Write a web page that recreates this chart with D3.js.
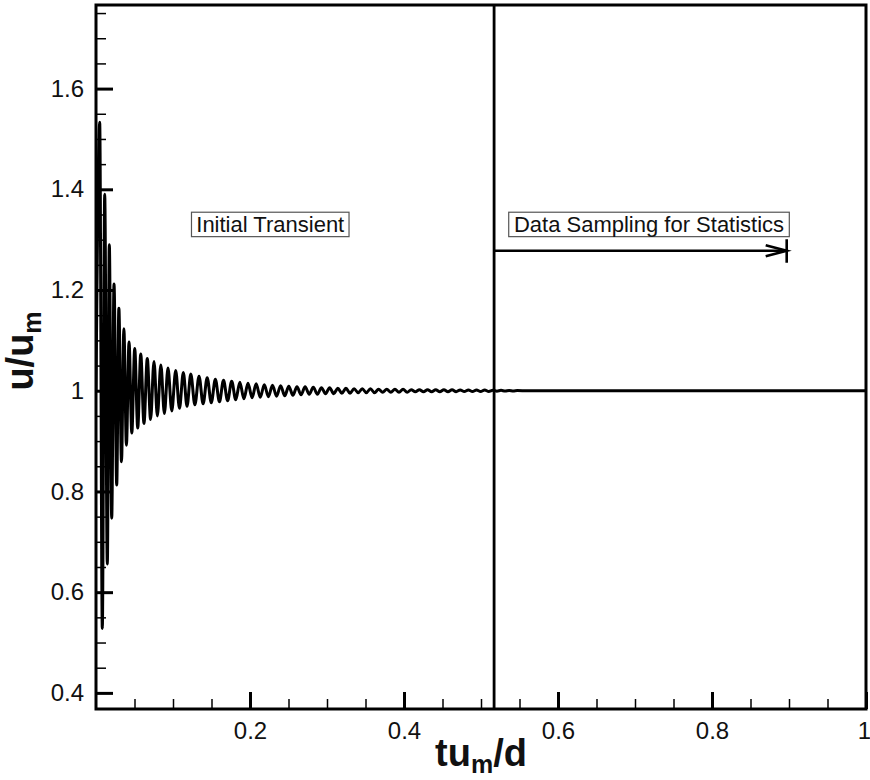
<!DOCTYPE html>
<meta charset="utf-8">
<style>
body { margin: 0; background: #fff; }
.axis text { font-family: Arial, "Liberation Sans", sans-serif; font-size: 24px; fill: #111; }
.axis path { display: none; }
.major line { stroke: #000; stroke-width: 3px; }
.minor line { stroke: #000; stroke-width: 1.5px; }
.title { font-family: Arial, "Liberation Sans", sans-serif; font-weight: bold; font-size: 38px; fill: #111; }
.note { font-family: Arial, "Liberation Sans", sans-serif; font-size: 22px; fill: #111; }
</style>
<body>
<script src="https://cdnjs.cloudflare.com/ajax/libs/d3/7.8.5/d3.min.js"></script>
<script>
// time (t u_m / d) and velocity ratio u/u_m, extrema
var tData = [0, 0.0048, 0.0082, 0.0113, 0.0147, 0.0173, 0.0204, 0.0234, 0.0269, 0.0297, 0.0331,
  0.0362, 0.0395, 0.0429, 0.0465, 0.0503, 0.0542, 0.0581, 0.0623, 0.0666, 0.0709,
  0.0753, 0.0797, 0.0842, 0.0888, 0.0935, 0.0984, 0.1035, 0.1084, 0.1134, 0.1182,
  0.1231, 0.1284, 0.1338,
  0.1391, 0.1444, 0.1497, 0.1550, 0.1603, 0.1656, 0.1709, 0.1762, 0.1815, 0.1868,
  0.1921, 0.1974, 0.2027, 0.2080, 0.2133, 0.2186, 0.2239, 0.2292, 0.2345, 0.2398,
  0.2451, 0.2504, 0.2557, 0.2610, 0.2663, 0.2716, 0.2769, 0.2822, 0.2875, 0.2928,
  0.2981, 0.3034, 0.3087, 0.3140, 0.3193, 0.3246, 0.3299, 0.3352, 0.3405, 0.3458,
  0.3511, 0.3564, 0.3617, 0.3670, 0.3723, 0.3776, 0.3829, 0.3882, 0.3935, 0.3988,
  0.4041, 0.4094, 0.4147, 0.4200, 0.4253, 0.4306, 0.4359, 0.4412, 0.4465, 0.4518,
  0.4571, 0.4624, 0.4677, 0.4730, 0.4783, 0.4836, 0.4889, 0.4942, 0.4995, 0.5048,
  0.5101, 0.5154, 0.5207, 0.5260, 0.5313, 0.5366, 0.5419, 0.5472, 0.56, 1.0];
var uData = [1.0, 1.533, 0.528, 1.39, 0.656, 1.29, 0.747, 1.212, 0.813, 1.164, 0.859,
  1.123, 0.892, 1.097, 0.916, 1.084, 0.926, 1.073, 0.935, 1.064, 0.943,
  1.058, 0.950, 1.051, 0.955, 1.045, 0.960, 1.040, 0.965, 1.036, 0.969,
  1.033, 0.972, 1.029,
  0.974, 1.026, 0.976, 1.023, 0.978, 1.021, 0.980, 1.019, 0.982, 1.017,
  0.984, 1.015, 0.986, 1.014, 0.987, 1.012, 0.988, 1.011, 0.989, 1.010,
  0.990, 1.009, 0.991, 1.008, 0.992, 1.008, 0.993, 1.007, 0.993, 1.006,
  0.994, 1.006, 0.994, 1.005, 0.995, 1.005, 0.995, 1.004, 0.996, 1.004,
  0.996, 1.004, 0.996, 1.003, 0.997, 1.003, 0.997, 1.003, 0.997, 1.003,
  0.997, 1.002, 0.998, 1.002, 0.998, 1.002, 0.998, 1.002, 0.998, 1.002,
  0.998, 1.002, 0.998, 1.0015, 0.9985, 1.0015, 0.9985, 1.0015, 0.9985, 1.0015,
  0.9985, 1.001, 0.9992, 1.0008, 0.9994, 1.0006, 0.9996, 1.0004, 1.0, 1.0];

var xMajor = [0.2, 0.4, 0.6, 0.8, 1];
var xMinor = [0.05, 0.1, 0.15, 0.25, 0.3, 0.35, 0.45, 0.5, 0.55, 0.65, 0.7, 0.75, 0.85, 0.9, 0.95];
var yMajor = [0.4, 0.6, 0.8, 1, 1.2, 1.4, 1.6];
var yMinor = [0.45, 0.5, 0.55, 0.65, 0.7, 0.75, 0.85, 0.9, 0.95, 1.05, 1.1, 1.15,
  1.25, 1.3, 1.35, 1.45, 1.5, 1.55, 1.65, 1.7, 1.75];

var tSplit = 0.517;           // start of statistics sampling
var tSampleEnd = 0.897;       // end of arrow
var uArrow = 1.278;
var notes = [
  {text: "Initial Transient", t0: 0.124, t1: 0.3286, u0: 1.3545, u1: 1.306},
  {text: "Data Sampling for Statistics", t0: 0.536, t1: 0.9004, u0: 1.3545, u1: 1.306}
];

var margin = {top: 5, right: 4, bottom: 71, left: 96},
    width = 870 - margin.left - margin.right,
    height = 780 - margin.top - margin.bottom;

var svg = d3.select("body").append("svg")
    .attr("width", 870)
    .attr("height", 780);
var g = svg.append("g")
    .attr("transform", "translate(" + margin.left + "," + margin.top + ")");

var x = d3.scaleLinear().domain([0, 1]).range([0, width]);
var y = d3.scaleLinear().domain([0.368, 1.766]).range([height, 0]);

g.append("clipPath").attr("id", "clip")
  .append("rect").attr("width", width).attr("height", height);

// minor ticks
g.append("g").attr("class", "axis minor")
    .call(d3.axisLeft(y).tickValues(yMinor).tickSize(-10).tickFormat(""));
g.append("g").attr("class", "axis minor")
    .attr("transform", "translate(0," + height + ")")
    .call(d3.axisBottom(x).tickValues(xMinor).tickSize(-10).tickFormat(""));

// major ticks
g.append("g").attr("class", "axis major")
    .call(d3.axisLeft(y).tickValues(yMajor).tickSize(-17).tickPadding(12).tickFormat(d3.format("")));
var xAx = g.append("g").attr("class", "axis major")
    .attr("transform", "translate(0," + height + ")")
    .call(d3.axisBottom(x).tickValues(xMajor).tickSize(-17).tickPadding(13).tickFormat(d3.format("")));
// last label sits on the right edge, nudge it in
xAx.selectAll("text").filter(function(d) { return d === 1; }).attr("dx", -2);

// data line
var pts = tData.map(function(t, i) { return [t, uData[i]]; });
var line = d3.line()
    .x(function(d) { return x(d[0]); })
    .y(function(d) { return y(d[1]); })
    .curve(d3.curveMonotoneX);
g.append("path")
    .datum(pts)
    .attr("clip-path", "url(#clip)")
    .attr("d", line)
    .attr("fill", "none")
    .attr("stroke", "#000")
    .attr("stroke-width", 3)
    .attr("stroke-linejoin", "round");

// split line
g.append("line")
    .attr("x1", x(tSplit)).attr("x2", x(tSplit))
    .attr("y1", 0).attr("y2", height)
    .attr("stroke", "#000").attr("stroke-width", 2.8);

// arrow
g.append("line")
    .attr("x1", x(tSplit)).attr("x2", x(tSampleEnd))
    .attr("y1", y(uArrow)).attr("y2", y(uArrow))
    .attr("stroke", "#000").attr("stroke-width", 2.6);
g.append("path")
    .attr("d", "M" + (x(tSampleEnd) - 21) + "," + (y(uArrow) - 5.5) +
               "L" + x(tSampleEnd) + "," + y(uArrow) +
               "L" + (x(tSampleEnd) - 21) + "," + (y(uArrow) + 5.5))
    .attr("fill", "none").attr("stroke", "#000").attr("stroke-width", 2.6);
g.append("line")
    .attr("x1", x(tSampleEnd)).attr("x2", x(tSampleEnd))
    .attr("y1", y(uArrow) - 11.5).attr("y2", y(uArrow) + 12)
    .attr("stroke", "#000").attr("stroke-width", 2.6);

// text boxes
var note = g.selectAll(".notebox").data(notes).enter().append("g");
note.append("rect")
    .attr("x", function(d) { return x(d.t0); })
    .attr("y", function(d) { return y(d.u0); })
    .attr("width", function(d) { return x(d.t1) - x(d.t0); })
    .attr("height", function(d) { return y(d.u1) - y(d.u0); })
    .attr("fill", "#fff").attr("stroke", "#555").attr("stroke-width", 1.2);
note.append("text")
    .attr("class", "note")
    .attr("x", function(d) { return (x(d.t0) + x(d.t1)) / 2; })
    .attr("y", function(d) { return y(d.u1) - 4.5; })
    .attr("text-anchor", "middle")
    .text(function(d) { return d.text; });

// frame
g.append("rect")
    .attr("width", width).attr("height", height)
    .attr("fill", "none").attr("stroke", "#000").attr("stroke-width", 3);

// axis titles
var xt = svg.append("text").attr("class", "title")
    .attr("x", margin.left + width / 2).attr("y", 766)
    .attr("text-anchor", "middle");
xt.append("tspan").text("tu");
xt.append("tspan").attr("font-size", "25px").attr("dy", 7).text("m");
xt.append("tspan").attr("dy", -7).text("/d");

var yt = svg.append("text").attr("class", "title")
    .attr("transform", "translate(33," + (margin.top + height / 2 - 6) + ") rotate(-90)")
    .attr("text-anchor", "middle");
yt.append("tspan").text("u/u");
yt.append("tspan").attr("font-size", "25px").attr("dy", 8).text("m");
</script>
</body>
